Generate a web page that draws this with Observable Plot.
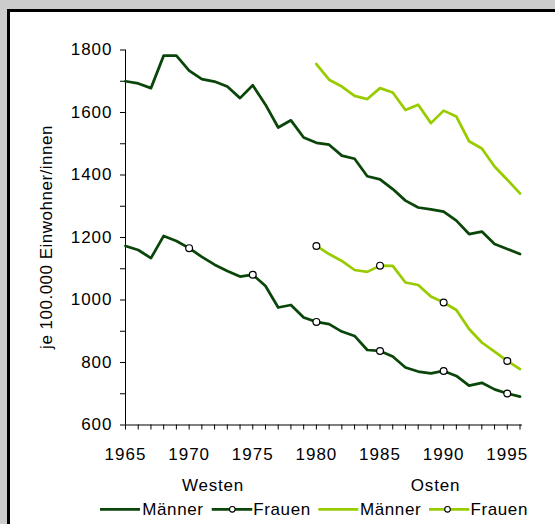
<!DOCTYPE html>
<html>
<head>
<meta charset="utf-8">
<script src="https://cdn.jsdelivr.net/npm/d3@7"></script>
<script src="https://cdn.jsdelivr.net/npm/@observablehq/plot@0.6"></script>
<style>
  html, body { margin: 0; padding: 0; }
  body { width: 555px; height: 524px; background: #cccccc; position: relative; overflow: hidden;
         font-family: "Liberation Sans", Arial, sans-serif; }
  #panel { position: absolute; left: 7px; top: 9px; width: 548px; height: 515px; background: #ffffff;
           border-left: 3px solid #000; border-top: 3px solid #000; box-sizing: border-box; }
  #chart { position: absolute; left: 0; top: 0; }
  #overlay { position: absolute; left: 0; top: 0; }
</style>
</head>
<body>
<div id="panel"></div>
<div id="chart"></div>
<svg id="overlay" width="555" height="524"></svg>
<script>
// ---- data ----
const years = d3.range(1965, 1997);
const westMen = [1700, 1693, 1678, 1782, 1782, 1734, 1707, 1699, 1683, 1646, 1687, 1625, 1552, 1575, 1520, 1503,
                 1497, 1462, 1452, 1396, 1386, 1355, 1318, 1296, 1290, 1283, 1254, 1211, 1219, 1179, 1163, 1147];
const westWomen = [1173, 1160, 1134, 1205, 1189, 1166, 1138, 1113, 1093, 1075, 1081, 1045, 976, 984, 944, 930,
                   923, 899, 885, 840, 837, 819, 784, 771, 765, 773, 757, 726, 735, 714, 701, 691];
const eastYears = d3.range(1980, 1997);
const eastMen = [1755, 1705, 1683, 1653, 1643, 1678, 1664, 1608, 1625, 1566, 1606, 1587, 1508, 1485, 1427, 1385, 1341];
const eastWomen = [1173, 1147, 1125, 1096, 1090, 1110, 1109, 1056, 1048, 1011, 992, 968, 907, 864, 835, 805, 779];
const markerYears = [1970, 1975, 1980, 1985, 1990, 1995];
const yTicks = d3.range(600, 1801, 100);
const yLabel = "je 100.000 Einwohner/innen";
const groupLabels = ["Westen", "Osten"];
const seriesLabels = ["Männer", "Frauen", "Männer", "Frauen"];

const dark = "#0a460a";
const light = "#99cc00";

const toRows = (xs, vs) => xs.map((year, i) => ({year, value: vs[i]}));
const wM = toRows(years, westMen);
const wF = toRows(years, westWomen);
const eM = toRows(eastYears, eastMen);
const eF = toRows(eastYears, eastWomen);
const mark = rows => rows.filter(d => markerYears.includes(d.year));

const chart = Plot.plot({
  width: 555,
  height: 470,
  marginLeft: 125,
  marginRight: 35.5,
  marginTop: 49.5,
  marginBottom: 45.5,
  x: {domain: [1965, 1996]},
  y: {domain: [600, 1800]},
  style: {background: "transparent", overflow: "visible", color: "#000",
          fontFamily: "'Liberation Sans', Arial, sans-serif", fontSize: "17px", letterSpacing: "1px"},
  marks: [
    Plot.axisY({ticks: yTicks, tickSize: 5, tickPadding: 8, label: null,
                tickFormat: d => d % 200 === 0 ? String(d) : "", fontSize: 17, strokeOpacity: 1}),
    Plot.axisX({ticks: years, tickSize: 5, tickPadding: 18, label: null,
                tickFormat: d => d % 5 === 0 ? String(d) : "", fontSize: 17, strokeOpacity: 1}),
    Plot.ruleX([1965], {y1: 600, y2: 1800, stroke: "#000", strokeWidth: 1}),
    Plot.ruleY([600], {x1: 1965, x2: 1996.2, stroke: "#000", strokeWidth: 1}),
    Plot.line(wM, {x: "year", y: "value", stroke: dark, strokeWidth: 2.75}),
    Plot.line(wF, {x: "year", y: "value", stroke: dark, strokeWidth: 2.75}),
    Plot.line(eM, {x: "year", y: "value", stroke: light, strokeWidth: 2.75}),
    Plot.line(eF, {x: "year", y: "value", stroke: light, strokeWidth: 2.75}),
    Plot.dot(mark(wF), {x: "year", y: "value", r: 3.4, fill: "#fff", stroke: "#000", strokeWidth: 1.2}),
    Plot.dot(mark(eF), {x: "year", y: "value", r: 3.4, fill: "#fff", stroke: "#000", strokeWidth: 1.2})
  ]
});
document.getElementById("chart").appendChild(chart);

// ---- labels & legend overlay ----
const ov = d3.select("#overlay")
  .style("font-family", "'Liberation Sans', Arial, sans-serif")
  .style("font-size", "17px");

ov.append("text")
  .attr("transform", "translate(51.5,237) rotate(-90)")
  .attr("text-anchor", "middle")
  .style("letter-spacing", "0.5px")
  .text(yLabel);

ov.append("text").attr("x", 213).attr("y", 490.5).attr("text-anchor", "middle")
  .style("letter-spacing", "0.8px").text(groupLabels[0]);
ov.append("text").attr("x", 435.5).attr("y", 490.5).attr("text-anchor", "middle")
  .style("letter-spacing", "0.8px").text(groupLabels[1]);

const legend = [
  {x1: 100, x2: 140, color: dark, marker: false, tx: 142.3, label: seriesLabels[0]},
  {x1: 211.7, x2: 252.3, color: dark, marker: true, mx: 232.3, tx: 253.3, label: seriesLabels[1]},
  {x1: 318.3, x2: 358.3, color: light, marker: false, tx: 360, label: seriesLabels[2]},
  {x1: 429, x2: 469.3, color: light, marker: true, mx: 447.5, tx: 470.5, label: seriesLabels[3]}
];
const ly = 509.3;
for (const it of legend) {
  ov.append("line").attr("x1", it.x1).attr("x2", it.x2).attr("y1", ly).attr("y2", ly)
    .attr("stroke", it.color).attr("stroke-width", 2.75);
  if (it.marker) {
    ov.append("circle").attr("cx", it.mx).attr("cy", ly).attr("r", 2.8)
      .attr("fill", "#fff").attr("stroke", "#000").attr("stroke-width", 1.1);
  }
  ov.append("text").attr("x", it.tx).attr("y", 514.5).style("letter-spacing", "0.6px").text(it.label);
}
</script>
</body>
</html>
